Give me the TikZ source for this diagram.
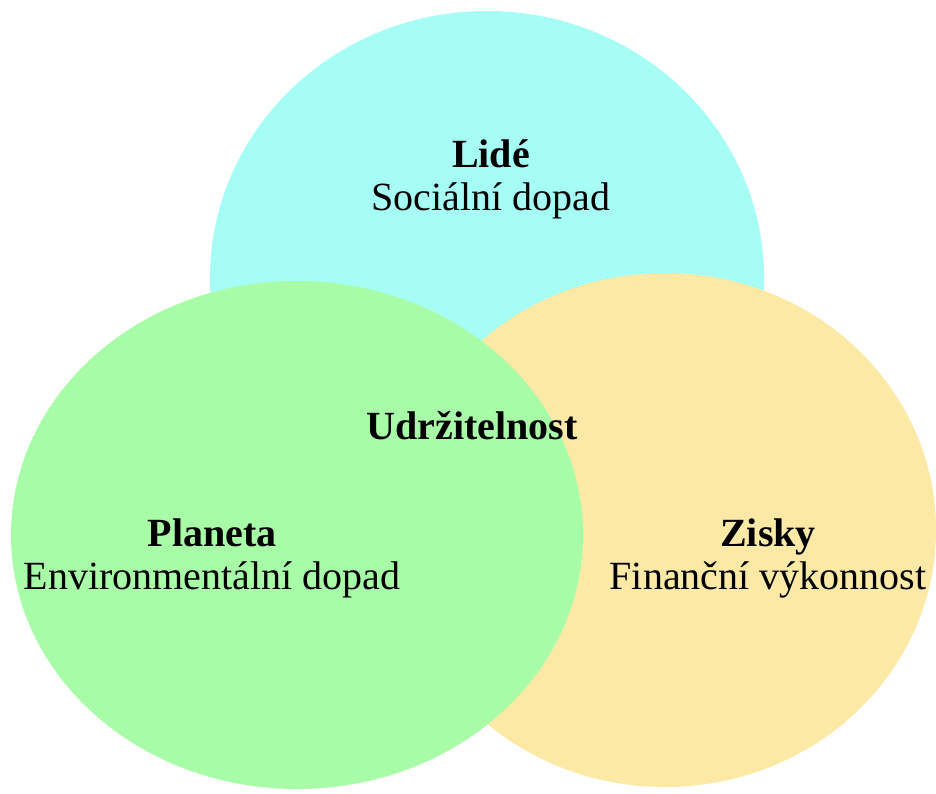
\documentclass[tikz,border=0pt]{standalone}
\usepackage{fontspec}
\setmainfont{Liberation Serif}
\definecolor{lidecol}{RGB}{166,253,245}
\definecolor{planetacol}{RGB}{168,252,168}
\definecolor{ziskycol}{RGB}{252,233,166}

\begin{document}
\begin{tikzpicture}[x=.5pt,y=-.5pt,
  labeltext/.style={font=\fontsize{20}{21.5}\selectfont, align=center, anchor=base}]
\useasboundingbox (0,0) rectangle (936,793);
% the three circles
\fill [lidecol] (487,278) ellipse [x radius=277, y radius=267];
\fill [ziskycol] (665,530) ellipse [x radius=271, y radius=257];
\fill [planetacol] (297,535) ellipse [x radius=286, y radius=254];
% labels (base = last line)
\node [labeltext] (lide) at (491,210) {\textbf{Lidé}\\Sociální dopad};
\node [labeltext] (udrz) at (472,439) {\textbf{Udržitelnost}};
\node [labeltext] (planeta) at (212,589) {\textbf{Planeta}\\Environmentální dopad};
\node [labeltext] (zisky) at (768,589) {\textbf{Zisky}\\Finanční výkonnost};
\end{tikzpicture}
\end{document}
